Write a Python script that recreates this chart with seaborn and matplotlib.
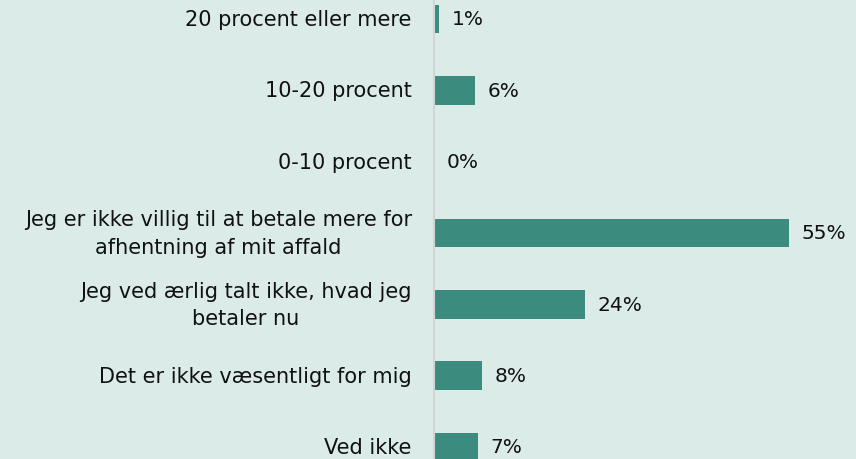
import matplotlib
matplotlib.use("Agg")
import matplotlib.pyplot as plt
import seaborn as sns
import pandas as pd

categories = [
    "20 procent eller mere",
    "10-20 procent",
    "0-10 procent",
    "Jeg er ikke villig til at betale mere for\nafhentning af mit affald",
    "Jeg ved ærlig talt ikke, hvad jeg\nbetaler nu",
    "Det er ikke væsentligt for mig",
    "Ved ikke",
]
values = [0.8, 6.4, 0.0, 55.0, 23.4, 7.4, 6.8]
labels = ["1%", "6%", "0%", "55%", "24%", "8%", "7%"]

df = pd.DataFrame({"svar": categories, "andel": values})

bg = "#dbebe7"
bar_color = "#3b8c7f"
txt = "#111111"

sns.set_style("white")
plt.rcParams["font.family"] = ["DejaVu Sans"]

fig = plt.figure(figsize=(8.56, 4.6), dpi=100, facecolor=bg)
ax = fig.add_axes([434 / 856, 0, 422 / 856, 1])
ax.set_facecolor(bg)

sns.barplot(data=df, x="andel", y="svar", orient="h", color=bar_color,
            saturation=1, width=0.4, linewidth=0, ax=ax)

ax.bar_label(ax.containers[0], labels=labels, padding=9, fontsize=14.5, color=txt)

ax.set_xlim(0, 65.4)
ax.set_ylim(6.17, -0.28)
ax.set_xlabel("")
ax.set_ylabel("")
ax.set_xticks([])
ax.tick_params(axis="y", length=0, pad=16, labelsize=15, labelcolor=txt)
for lab in ax.get_yticklabels():
    lab.set_multialignment("center")
    lab.set_linespacing(1.45)
    lab.set_verticalalignment("center")

for side in ["top", "right", "bottom"]:
    ax.spines[side].set_visible(False)
ax.spines["left"].set_color("#d4d4d4")
ax.spines["left"].set_linewidth(1.5)

fig.savefig("out.png", dpi=100, facecolor=bg)
